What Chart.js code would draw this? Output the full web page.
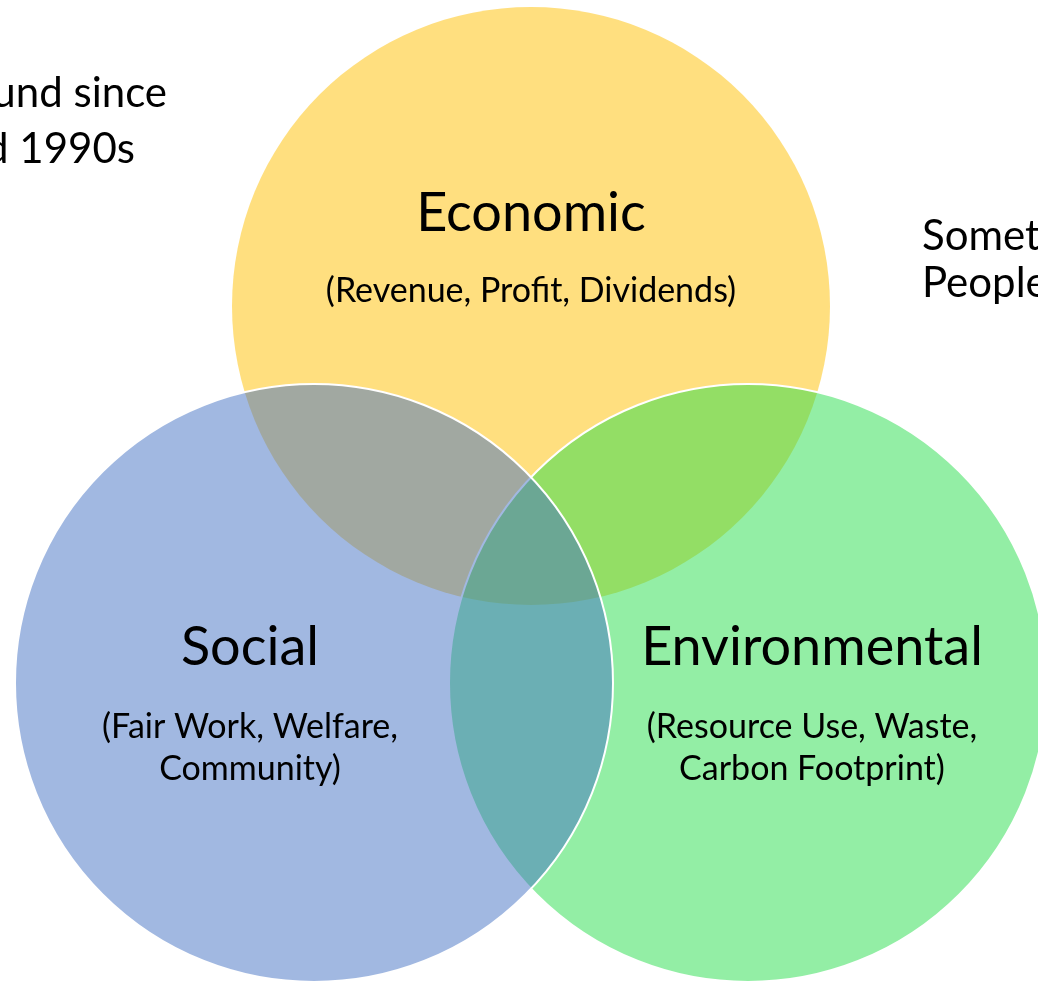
<!DOCTYPE html>
<html>
<head>
<meta charset="utf-8">
<script src="https://cdn.jsdelivr.net/npm/chart.js@4.4.0/dist/chart.umd.min.js"></script>
<style>
    html, body { margin: 0; padding: 0; background: #ffffff; overflow: hidden; }
    #wrap { width: 1038px; height: 983px; position: relative; }
</style>
</head>
<body>
<div id="wrap"><canvas id="vennChart"></canvas></div>
<script>
// circles, drawn bottom to top
const circleNames = ['Economic', 'Environmental', 'Social'];
const circleX = [531, 748, 314];
const circleY = [306, 683, 683];
const circleR = [299, 299, 299];
const circleSubtitles = [
    ['(Revenue, Profit, Dividends)'],
    ['(Resource Use, Waste,', 'Carbon Footprint)'],
    ['(Fair Work, Welfare,', 'Community)']
];

// text that runs off the edges of the slide
const leftNotes = ['und since', 'd 1990s'];
const rightNotes = ['Somet', 'People'];

const fills = ['rgba(255, 192, 0, 0.5)', 'rgba(40, 221, 75, 0.5)', 'rgba(68, 114, 196, 0.5)'];
const borders = [0, 2, 2];

// label anchors in chart units (title baseline, first subtitle baseline)
const labelSpots = [
    { x: 531, title: 231, sub: 302 },
    { x: 812, title: 665, sub: 738 },
    { x: 250, title: 665, sub: 738 }
];
const FONT = "Lato, 'Open Sans', sans-serif";

const labelPlugin = {
    id: 'vennLabels',
    afterDatasetsDraw(chart) {
        const ctx = chart.ctx;
        const xs = chart.scales.x;
        const ys = chart.scales.y;
        ctx.save();
        ctx.fillStyle = '#000000';
        ctx.textBaseline = 'alphabetic';
        ctx.textAlign = 'center';

        circleNames.forEach((name, i) => {
            const spot = labelSpots[i];
            const px = xs.getPixelForValue(spot.x);
            ctx.font = '54px ' + FONT;
            ctx.fillText(name, px, ys.getPixelForValue(spot.title));
            ctx.font = '34px ' + FONT;
            circleSubtitles[i].forEach((line, j) => {
                ctx.fillText(line, px, ys.getPixelForValue(spot.sub + j * 42));
            });
        });

        ctx.font = '42px ' + FONT;
        ctx.textAlign = 'right';
        ctx.fillText(leftNotes[0], xs.getPixelForValue(167), ys.getPixelForValue(107));
        ctx.fillText(leftNotes[1], xs.getPixelForValue(135), ys.getPixelForValue(163));
        ctx.textAlign = 'left';
        ctx.fillText(rightNotes[0], xs.getPixelForValue(922), ys.getPixelForValue(250));
        ctx.fillText(rightNotes[1], xs.getPixelForValue(922), ys.getPixelForValue(297));
        ctx.restore();
    }
};

new Chart(document.getElementById('vennChart'), {
    type: 'bubble',
    data: {
        datasets: circleNames.map((name, i) => ({
            label: name,
            data: [{ x: circleX[i], y: circleY[i], r: circleR[i] }],
            backgroundColor: fills[i],
            borderColor: '#ffffff',
            borderWidth: borders[i],
            clip: false,
            order: circleNames.length - i
        }))
    },
    options: {
        responsive: true,
        maintainAspectRatio: false,
        animation: false,
        events: [],
        layout: { padding: 0, autoPadding: false },
        plugins: {
            legend: { display: false },
            tooltip: { enabled: false }
        },
        scales: {
            x: { type: 'linear', min: 0, max: 1038, display: false },
            y: { type: 'linear', min: 0, max: 983, reverse: true, display: false }
        }
    },
    plugins: [labelPlugin]
});
</script>
</body>
</html>
